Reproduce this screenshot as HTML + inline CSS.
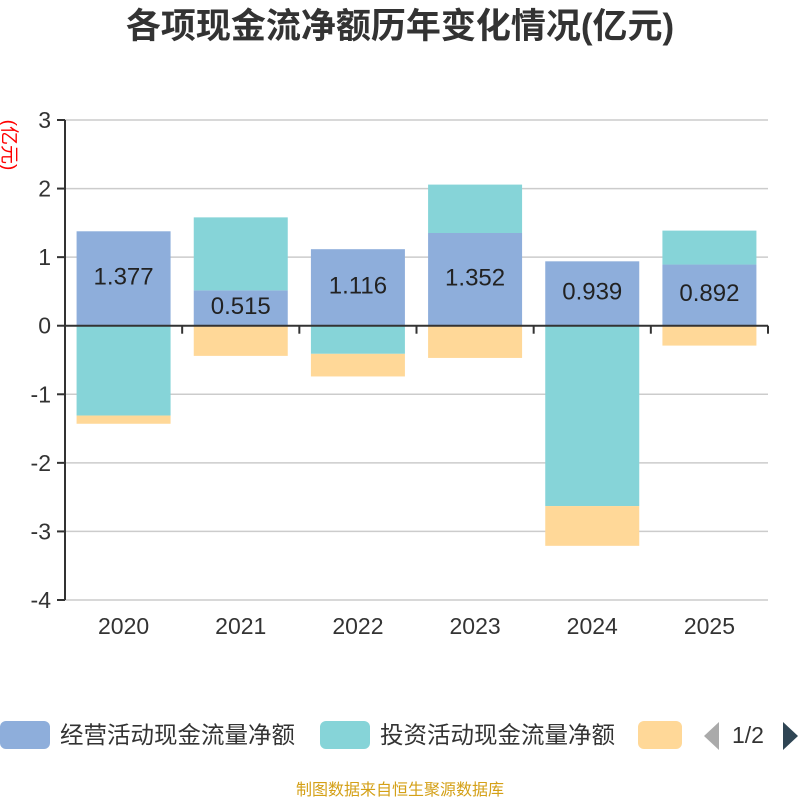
<!DOCTYPE html>
<html><head><meta charset="utf-8"><style>
body{margin:0;background:#fff;}
svg text{font-family:"Liberation Sans","Noto Sans CJK SC",sans-serif;}
</style></head><body>
<svg id="c" width="800" height="800" xmlns="http://www.w3.org/2000/svg">
<text x="400" y="38" text-anchor="middle" font-size="35" font-weight="bold" fill="#333">各项现金流净额历年变化情况(亿元)</text>
<text transform="translate(3,145) rotate(90)" text-anchor="middle" font-size="19" fill="#f00">(亿元)</text>
<g id="grid"></g><g id="bars"></g><g id="axes"></g>
<g>
<rect x="0" y="721" width="50" height="28" rx="6" fill="#8eaedb"/>
<text x="60" y="743" font-size="23.5" fill="#333">经营活动现金流量净额</text>
<rect x="320" y="721" width="50" height="28" rx="6" fill="#86d4d8"/>
<text x="380" y="743" font-size="23.5" fill="#333">投资活动现金流量净额</text>
<rect x="638" y="721" width="44" height="28" rx="6" fill="#ffd898"/>
<polygon points="719,722 719,750 704,736" fill="#aaa"/>
<text x="732" y="743" font-size="23" fill="#333">1/2</text>
<polygon points="783,722 783,750 798,736" fill="#2f4554"/>
</g>
<text x="400" y="795" text-anchor="middle" font-size="16" fill="#d4a017">制图数据来自恒生聚源数据库</text>
</svg>
<script>
const categories=["2020","2021","2022","2023","2024","2025"];
const operating=[1.377,0.515,1.116,1.352,0.939,0.892];
const investing=[-1.31,1.065,-0.41,0.706,-2.63,0.495];
const financing=[-0.12,-0.44,-0.33,-0.47,-0.58,-0.29];
const yTicks=[3,2,1,0,-1,-2,-3,-4];
const NS="http://www.w3.org/2000/svg";
const x0=65,x1=768,yTop=120,yBot=600,yMax=3,yMin=-4;
const y=v=>yTop+(yMax-v)/(yMax-yMin)*(yBot-yTop);
const bw=(x1-x0)/categories.length;
const xc=i=>x0+bw*(i+0.5);
function mk(tag,attrs,parent){const e=document.createElementNS(NS,tag);for(const k in attrs)e.setAttribute(k,attrs[k]);document.getElementById(parent).appendChild(e);return e;}
yTicks.forEach(t=>{
 if(t!==0){const l=mk('line',{x1:x0,x2:x1,y1:y(t),y2:y(t),stroke:'#ccc','stroke-width':1.5},'grid');
 
 }
 const tk=mk('line',{x1:x0-8,x2:x0,y1:y(t),y2:y(t),stroke:'#333','stroke-width':2},'axes');
 
 
 const tx=mk('text',{x:x0-14,y:y(t)+8,'text-anchor':'end','font-size':23,fill:'#333'},'axes');
 tx.textContent=t;
 
 
});
const series=[[operating,'#8eaedb','operating'],[investing,'#86d4d8','investing'],[financing,'#ffd898','financing']];
categories.forEach((c,i)=>{
 let pos=0,neg=0;
 series.forEach(([arr,col,nm])=>{
  const v=arr[i];let a,b;
  if(v>=0){a=pos;b=pos+v;pos=b;}else{a=neg;b=neg+v;neg=b;}
  const top=Math.min(y(a),y(b)),h=Math.abs(y(a)-y(b));
  const r=mk('rect',{x:xc(i)-47,y:top,width:94,height:h,fill:col},'bars');
  
  
 });
 const lb=mk('text',{x:xc(i),y:y(operating[i]/2)+6,'text-anchor':'middle','font-size':24,fill:'#222'},'bars');
 lb.textContent=operating[i].toFixed(3);
 
 
 const xt=mk('text',{x:xc(i),y:634,'text-anchor':'middle','font-size':23,fill:'#333'},'axes');
 xt.textContent=c;
 
 
 const tk=mk('line',{x1:x0+bw*(i+1),x2:x0+bw*(i+1),y1:y(0),y2:y(0)+8,stroke:'#333','stroke-width':2},'axes');
 
 
});
const xa=mk('line',{x1:x0,x2:x1,y1:y(0),y2:y(0),stroke:'#333','stroke-width':2},'axes');


const ya=mk('line',{x1:x0,x2:x0,y1:yTop,y2:yBot,stroke:'#333','stroke-width':2},'axes');


</script>
</body></html>
